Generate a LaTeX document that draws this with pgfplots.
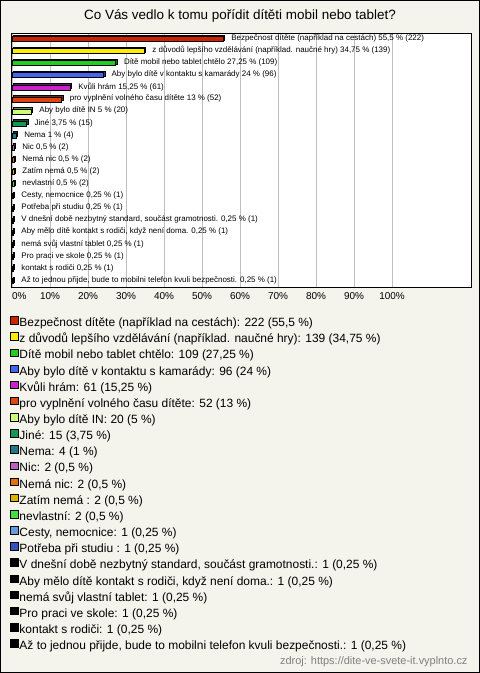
\documentclass[border=0pt]{standalone}
\usepackage{pgfplots}
\pgfplotsset{compat=1.18}
\usepackage{fontspec}
\setmainfont{Liberation Sans}
\definecolor{bg}{HTML}{F4F3EC}
\definecolor{c1}{HTML}{CC2200}
\definecolor{c2}{HTML}{FFEE00}
\definecolor{c3}{HTML}{22CC22}
\definecolor{c4}{HTML}{4466EE}
\definecolor{c5}{HTML}{CC22CC}
\definecolor{c6}{HTML}{DD4411}
\definecolor{c7}{HTML}{CCFF77}
\definecolor{c8}{HTML}{119955}
\definecolor{c9}{HTML}{227788}
\definecolor{c10}{HTML}{C060C0}
\definecolor{c11}{HTML}{E07010}
\definecolor{c12}{HTML}{E0B000}
\definecolor{c13}{HTML}{44DD44}
\definecolor{c14}{HTML}{6699DD}
\definecolor{c15}{HTML}{3355BB}
\definecolor{c16}{HTML}{000000}
\newcommand{\cat}[5]{%
  \addplot[xbar, bar shift=0pt, bar width=5bp, fill=#1!55!black, draw=black, line width=0.7bp,
    xshift=1.6bp, yshift=1.6bp, forget plot]
    coordinates {(#2,#3)};
  \addplot[xbar, bar shift=0pt, bar width=5bp, fill=#1, draw=black, line width=0.7bp,
    point meta=explicit symbolic, nodes near coords,
    legend image code/.code={\draw[fill=#1, draw=black, line width=0.8bp] (1.5bp,-0.5bp) rectangle (9bp,7bp);}]
    coordinates {(#2,#3) [#4]};
  \addlegendentry{#5}}
\begin{document}
\begin{tikzpicture}
\draw[fill=bg, line width=1bp] (0.5bp,0.5bp) rectangle (479.5bp,672.5bp);
\node[font=\fontsize{13.5}{16}\selectfont] at (240bp,657bp) {Co Vás vedlo k tomu pořídit dítěti mobil nebo tablet?};
\node[font=\fontsize{11}{13}\selectfont, text=gray, anchor=east] at (471bp,11bp) {zdroj: https://dite-ve-svete-it.vyplnto.cz};
\begin{axis}[
  at={(11bp,386bp)}, anchor=south west,
  scale only axis, width=460bp, height=254bp,
  xmin=-0.3, xmax=120.8, ymin=-0.5, ymax=20.5, y dir=reverse,
  ytick=\empty, xtick={0,10,...,100},
  xticklabels={\makebox[0pt][l]{0\%},10\%,20\%,30\%,40\%,50\%,60\%,70\%,80\%,90\%,100\%},
  xmajorgrids, grid style={black!25, line width=0.8bp},
  major tick length=0pt,
  axis background/.style={fill=white},
  axis line style={black, line width=0.8bp},
  /pgf/number format/assume math mode=true,
  xticklabel style={font=\fontsize{10}{12}\selectfont, yshift=-2bp},
  nodes near coords align={horizontal},
  every node near coord/.append style={font=\fontsize{8}{9}\selectfont, anchor=west, xshift=7bp, yshift=0.8bp, inner sep=1bp, text=black},
  legend cell align=left,
  legend style={at={(0,0)}, anchor=north west, xshift=-1bp, yshift=-29bp, draw=none, fill=none,
    inner sep=0pt, row sep=1.75bp, font=\fontsize{12}{14}\selectfont,
    nodes={inner sep=1bp, text height=9bp, text depth=3bp}},
]
\cat{c1}{55.5}{0}{Bezpečnost dítěte (například na cestách) 55,5 \% (222)}{Bezpečnost dítěte (například na cestách): 222 (55,5 \%)}
\cat{c2}{34.75}{1}{z důvodů lepšího vzdělávání (například. naučné hry) 34,75 \% (139)}{z důvodů lepšího vzdělávání (například. naučné hry): 139 (34,75 \%)}
\cat{c3}{27.25}{2}{Dítě mobil nebo tablet chtělo 27,25 \% (109)}{Dítě mobil nebo tablet chtělo: 109 (27,25 \%)}
\cat{c4}{24}{3}{Aby bylo dítě v kontaktu s kamarády 24 \% (96)}{Aby bylo dítě v kontaktu s kamarády: 96 (24 \%)}
\cat{c5}{15.25}{4}{Kvůli hrám 15,25 \% (61)}{Kvůli hrám: 61 (15,25 \%)}
\cat{c6}{13}{5}{pro vyplnění volného času dítěte 13 \% (52)}{pro vyplnění volného času dítěte: 52 (13 \%)}
\cat{c7}{5}{6}{Aby bylo dítě IN 5 \% (20)}{Aby bylo dítě IN: 20 (5 \%)}
\cat{c8}{3.75}{7}{Jiné 3,75 \% (15)}{Jiné: 15 (3,75 \%)}
\cat{c9}{1}{8}{Nema 1 \% (4)}{Nema: 4 (1 \%)}
\cat{c10}{0.5}{9}{Nic 0,5 \% (2)}{Nic: 2 (0,5 \%)}
\cat{c11}{0.5}{10}{Nemá nic 0,5 \% (2)}{Nemá nic: 2 (0,5 \%)}
\cat{c12}{0.5}{11}{Zatím nemá  0,5 \% (2)}{Zatím nemá : 2 (0,5 \%)}
\cat{c13}{0.5}{12}{nevlastní 0,5 \% (2)}{nevlastní: 2 (0,5 \%)}
\cat{c14}{0.25}{13}{Cesty, nemocnice 0,25 \% (1)}{Cesty, nemocnice: 1 (0,25 \%)}
\cat{c15}{0.25}{14}{Potřeba při studiu  0,25 \% (1)}{Potřeba při studiu : 1 (0,25 \%)}
\cat{c16}{0.25}{15}{V dnešní době nezbytný standard, součást gramotnosti. 0,25 \% (1)}{V dnešní době nezbytný standard, součást gramotnosti.: 1 (0,25 \%)}
\cat{c16}{0.25}{16}{Aby mělo dítě kontakt s rodiči, když není doma. 0,25 \% (1)}{Aby mělo dítě kontakt s rodiči, když není doma.: 1 (0,25 \%)}
\cat{c16}{0.25}{17}{nemá svůj vlastní tablet 0,25 \% (1)}{nemá svůj vlastní tablet: 1 (0,25 \%)}
\cat{c16}{0.25}{18}{Pro praci ve skole 0,25 \% (1)}{Pro praci ve skole: 1 (0,25 \%)}
\cat{c16}{0.25}{19}{kontakt s rodiči 0,25 \% (1)}{kontakt s rodiči: 1 (0,25 \%)}
\cat{c16}{0.25}{20}{Až to jednou přijde, bude to mobilni telefon kvuli bezpečnosti. 0,25 \% (1)}{Až to jednou přijde, bude to mobilni telefon kvuli bezpečnosti.: 1 (0,25 \%)}
\end{axis}
\end{tikzpicture}
\end{document}
